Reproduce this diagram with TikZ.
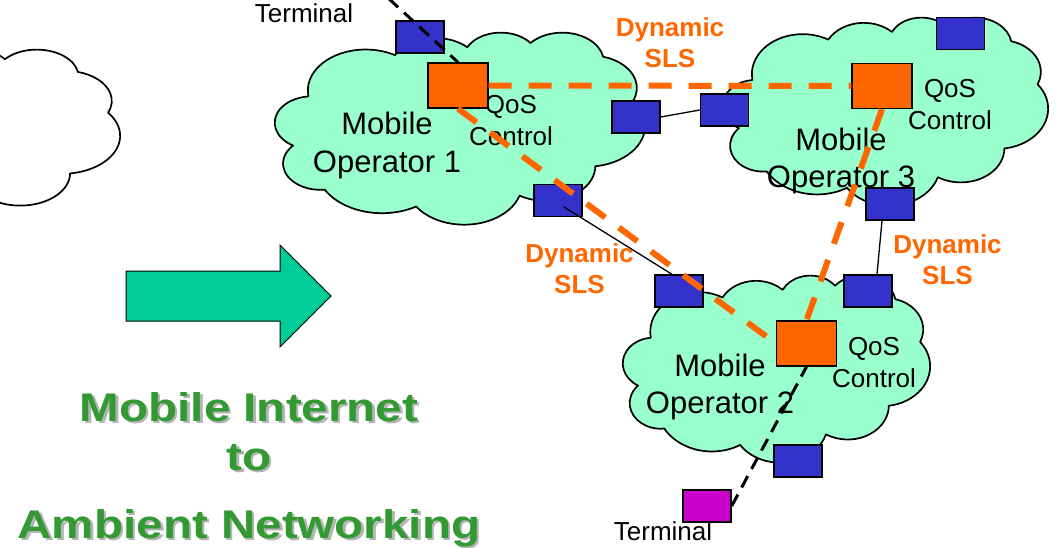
\documentclass[tikz,border=0pt]{standalone}
\usepackage{fontspec}
\setmainfont{Liberation Sans}
\newfontfamily\headfont[FakeStretch=1.19]{Liberation Sans}
\usetikzlibrary{calc}

\definecolor{cloudfill}{HTML}{99FFCC}
\definecolor{portblue}{HTML}{3333CC}
\definecolor{qosorange}{HTML}{FF6600}
\definecolor{termpink}{HTML}{CC00CC}
\definecolor{arrowgreen}{HTML}{00CC99}
\definecolor{titlegreen}{HTML}{339933}
\definecolor{titleshade}{HTML}{B4B4B4}

% caption line with a soft drop shadow behind it
\newcommand\shadowed[1]{\rlap{\hspace{2.5pt}\raisebox{-2.5pt}{\textcolor{titleshade}{#1}}}#1}

\tikzset{
  % one lobe of the cloud outline: radii, start angle and sweep (angles seen from the centre)
  puff/.style n args={4}{x radius=#1, y radius=#2,
    start angle={atan2(#1*sin(#3),#2*cos(#3))},
    delta angle={mod(atan2(#1*sin(#3+#4),#2*cos(#3+#4))-atan2(#1*sin(#3),#2*cos(#3))+720,360)}},
  cloudline/.style={draw=black, line width=1.7pt, line join=round},
  port/.style={draw=black, line width=1.4pt, fill=portblue,
    minimum width=48, minimum height=32, inner sep=0pt},
  qos/.style={draw=black, line width=1.4pt, fill=qosorange,
    minimum width=60, minimum height=45, inner sep=0pt},
  terminalbox/.style={port, fill=termpink},
  link/.style={draw=black, line width=1.3pt},
  sls/.style={draw=qosorange, line width=6pt, dash pattern=on 23pt off 17pt},
  access/.style={draw=black, line width=3pt, dash pattern=on 13pt off 8pt},
  % multi-line labels are placed by the baseline of their last line
  optext/.style={font=\fontsize{31}{37}\selectfont, align=center, anchor=base, inner sep=0pt},
  qostext/.style={font=\fontsize{26}{32}\selectfont, align=center, anchor=base, inner sep=0pt},
  slstext/.style={font=\fontsize{26}{31}\selectfont\bfseries, text=qosorange,
    align=center, anchor=base, inner sep=0pt},
  termtext/.style={font=\fontsize{26}{31}\selectfont, anchor=base, inner sep=0pt},
  titletext/.style={font=\headfont\bfseries\fontsize{40}{49}\selectfont, text=titlegreen,
    align=center, anchor=base, inner sep=0pt},
  arrowshape/.style={draw=black, line width=1pt, fill=arrowgreen, line join=miter},
}

% cloud outline in a 432 x 432 box, y pointing down
\newcommand\cloudoutline{(39.00,143.70)
  arc[puff={67.53}{91.90}{-190.487}{123.780}]
  arc[puff={53.33}{72.67}{-144.102}{89.945}]
  arc[puff={43.65}{59.45}{-145.808}{99.723}]
  arc[puff={48.57}{65.95}{-130.986}{117.242}]
  arc[puff={53.33}{72.73}{-78.709}{109.027}]
  arc[puff={67.75}{92.20}{-46.267}{130.269}]
  arc[puff={57.85}{78.67}{0.625}{114.033}]
  arc[puff={67.52}{92.15}{22.452}{115.173}]
  arc[puff={77.20}{105.43}{66.243}{75.711}]
  arc[puff={43.60}{59.18}{-274.942}{146.736}]
  arc[puff={43.45}{59.45}{-246.829}{152.519}]
  -- cycle}

\begin{document}
\begin{tikzpicture}[x=1pt, y=1pt, yscale=-1]
\useasboundingbox (0,0) rectangle (1056,548);
\begin{scope}
\clip (0,0) rectangle (1056,548);

% the plain cloud on the left
\draw[cloudline, fill=white, shift={(-252,49)}, xscale=372/432, yscale=178/432] \cloudoutline;

% operator domains
\draw[cloudline, fill=cloudfill, shift={(275,32)}, xscale=370/432, yscale=192/432] \cloudoutline;
\draw[cloudline, fill=cloudfill, shift={(723,17)}, xscale=325/432, yscale=188/432] \cloudoutline;
\draw[cloudline, fill=cloudfill, shift={(623,275)}, xscale=307/432, yscale=187/432] \cloudoutline;

\node[optext] (op1) at (387,172) {Mobile\\Operator 1};
\node[optext] (op3) at (841,187) {Mobile\\Operator 3};
\node[optext] (op2) at (720,413) {Mobile\\Operator 2};

\node[qostext] (qt1) at (511,146) {QoS\\Control};
\node[qostext] (qt3) at (950,130) {QoS\\Control};
\node[qostext] (qt2) at (874,387) {QoS\\Control};

% border and access ports
\node[port] (B1) at (420,37) {};
\node[port] (B2) at (636,117) {};
\node[port] (B3) at (724.5,110) {};
\node[port] (B4) at (960.5,33.5) {};
\node[port] (B5) at (890,204) {};
\node[port] (B6) at (558,200.5) {};
\node[port] (B7) at (679,291) {};
\node[port] (B8) at (868,291) {};
\node[port] (B9) at (798,461) {};
\node[terminalbox] (T2) at (707,506) {};

% QoS controllers
\node[qos] (O1) at (458,85.5) {};
\node[qos] (O3) at (882,86) {};
\node[qos] (O2) at (806.5,343.5) {};

% physical links between border ports
\draw[link] (B2.east) -- (B3.west);
\draw[link] ($(B6.center)+(6,6.5)$) -- ($(B7.north)+(-7,0)$);
\draw[link] ($(B5.south)+(-8,0)$) -- ($(B8.north)+(9,0)$);

% terminal attachments
\coordinate (far) at (357.6,-30);
\draw[access] (far) -- (O1.north);
\draw[access] (T2.east) -- (O2.south);

% dynamic SLS negotiation between controllers
\draw[sls] (O1.east) -- (O3.west);
\draw[sls] (O1.south) -- (O2.west);
\draw[sls] (O3.south) -- (O2.north);

\node[slstext] (sls13) at (670,68) {Dynamic\\SLS};
\node[slstext] (sls12) at (579.5,293) {Dynamic\\SLS};
\node[slstext] (sls32) at (947.5,284) {Dynamic\\SLS};

\node[termtext] (term1) at (304,23) {Terminal};
\node[termtext] (term2) at (663,540) {Terminal};

% transition arrow and caption
\draw[arrowshape] (126,271) -- (280,271) -- (280,245) -- (331,296) -- (280,347)
  -- (280,321) -- (126,321) -- cycle;

\node[titletext] (caption) at (249,538)
  {\shadowed{Mobile Internet}\\\shadowed{to}\\[19pt]\shadowed{Ambient Networking}};
\end{scope}
\end{tikzpicture}
\end{document}
